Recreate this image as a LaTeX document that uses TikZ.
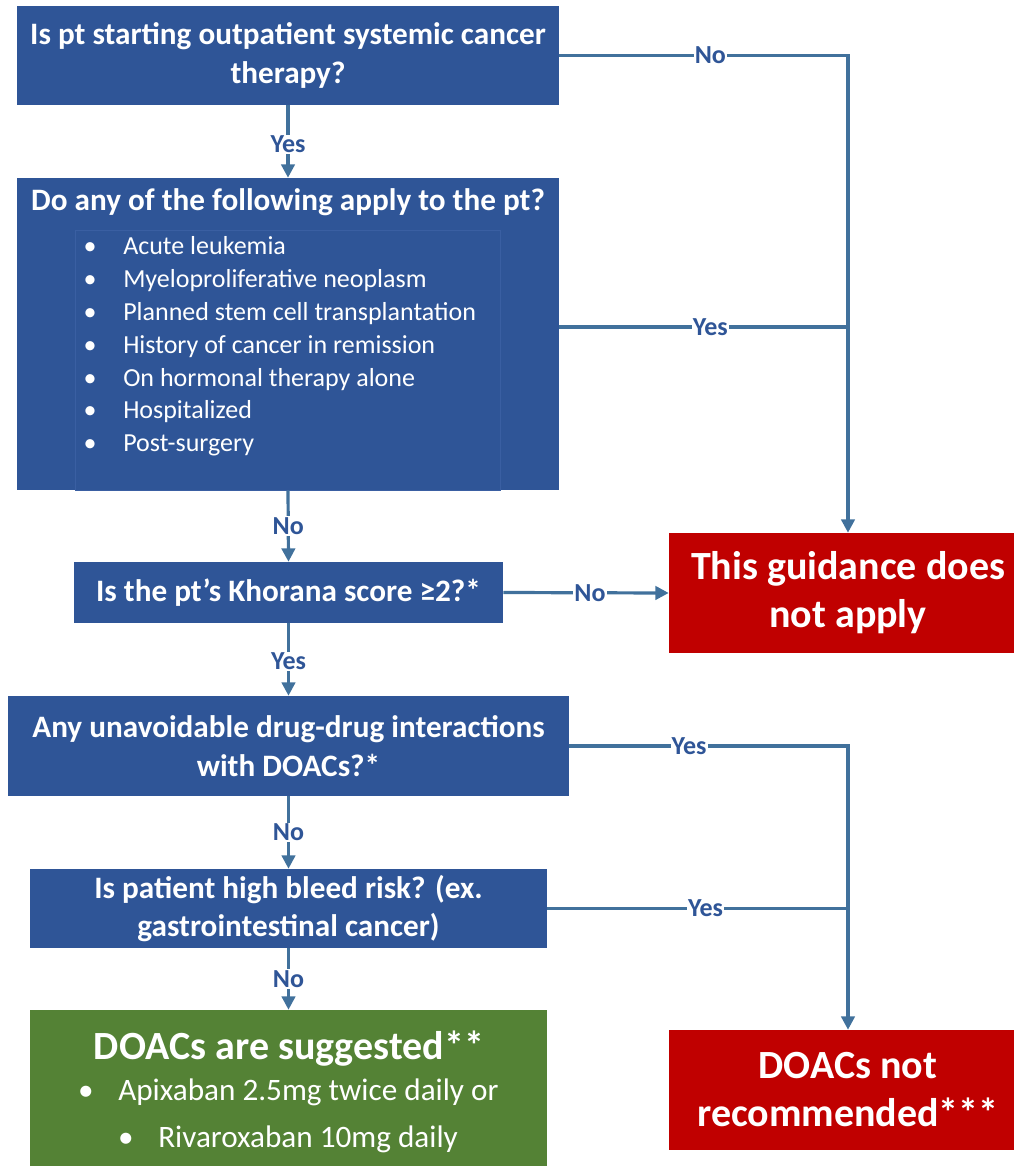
\documentclass[tikz,border=0pt]{standalone}
\usepackage{fontspec}
\setmainfont{Carlito}
\usetikzlibrary{arrows.meta,calc}
\definecolor{boxblue}{HTML}{2F5597}
\definecolor{linkblue}{HTML}{41719C}
\definecolor{boxred}{HTML}{C00000}
\definecolor{boxgreen}{HTML}{548235}
\definecolor{inneredge}{HTML}{3A5FA2}
\begin{document}
\begin{tikzpicture}[x=0.75pt,y=-0.75pt,
  box/.style={rectangle, fill=boxblue, draw=none, text=white, align=center, inner sep=0pt,
    font=\bfseries\fontsize{23.4}{29}\selectfont},
  redbox/.style={rectangle, fill=boxred, draw=none, text=white, align=center, inner sep=0pt,
    minimum width=268.5pt, minimum height=90pt, font=\bfseries\fontsize{30}{36}\selectfont},
  greenbox/.style={rectangle, fill=boxgreen, draw=none, inner sep=0pt},
  txt/.style={text=white, inner sep=0pt, text height=0.66em, text depth=0pt},
  conn/.style={draw=linkblue, line width=2.4pt, -{Triangle[length=10pt,width=10pt]}},
  link/.style={draw=linkblue, line width=2.4pt},
  lbl/.style={fill=white, text=boxblue, inner sep=0.8pt, font=\bfseries\fontsize{19.5}{22}\selectfont}
]
\useasboundingbox (0,0) rectangle (1013,1166);

% boxes
\node[box, minimum width=406.5pt, minimum height=74.25pt] (b1) at (288,55.5)
  {\raisebox{-2pt}{Is pt starting outpatient systemic cancer}\\\raisebox{-2pt}{therapy?}};
\node[box, minimum width=406.5pt, minimum height=234pt] (b2) at (288,334) {};
\draw[inneredge, line width=0.6pt] (75,230) rectangle (500,490);
\node[txt, font=\bfseries\fontsize{23.4}{29}\selectfont] (b2t) at (288,206) {Do any of the following apply to the pt?};
\foreach \yy/\tt [count=\i] in {250/Acute leukemia, 283/Myeloproliferative neoplasm, 316/Planned stem cell transplantation,
   349/History of cancer in remission, 382/On hormonal therapy alone, 414/Hospitalized, 447/Post-surgery}{
  \node[txt, font=\fontsize{19.5}{23}\selectfont] (bul\i) at (90,\yy) {•};
  \node[txt, anchor=west, font=\fontsize{19.5}{23}\selectfont] (item\i) at (123,\yy) {\tt};
}
\node[box, minimum width=321.75pt, minimum height=45.75pt] (b3) at (288.5,592.5)
  {\raisebox{-2pt}{Is the pt’s Khorana score ≥2?*}};
\node[redbox] (r1) at (848,593) {\raisebox{-2pt}{This guidance does}\\\raisebox{-2pt}{not apply}};
\node[box, minimum width=420.75pt, minimum height=75pt] (b4) at (288.5,746)
  {\raisebox{-2pt}{Any unavoidable drug-drug interactions}\\\raisebox{-2pt}{with DOACs?*}};
\node[box, minimum width=387.75pt, minimum height=59.25pt] (b5) at (288.5,908.5)
  {\raisebox{-2pt}{Is patient high bleed risk? (ex.}\\\raisebox{-2pt}{gastrointestinal cancer)}};
\node[greenbox, minimum width=387.75pt, minimum height=127.5pt] (g) at (288.5,1095) {};
\node[txt, font=\bfseries\fontsize{30}{36}\selectfont] (gt) at (289,1055) {DOACs are suggested**};
\node[txt, font=\fontsize{23.4}{28}\selectfont] (gb1) at (86,1096) {•};
\node[txt, anchor=west, font=\fontsize{23.4}{28}\selectfont] (gi1) at (118,1096) {Apixaban 2.5mg twice daily or};
\node[txt, font=\fontsize{23.4}{28}\selectfont] (gb2) at (126,1143) {•};
\node[txt, anchor=west, font=\fontsize{23.4}{28}\selectfont] (gi2) at (158,1143) {Rivaroxaban 10mg daily};
\node[redbox] (r2) at (848,1090) {\raisebox{-2pt}{DOACs not}\\\raisebox{-2pt}{recommended***}};

% connectors
\coordinate (b2e) at ($(b2.east)+(0,-7)$);
\draw[conn] (b1.south) -- node[lbl, yshift=-2pt]{Yes} (b2.north);
\draw[conn] (b2.south) -- node[lbl]{No} (b3.north);
\draw[conn] (b3.south) -- node[lbl, yshift=-1.5pt]{Yes} (b4.north);
\draw[conn] (b4.south) -- node[lbl]{No} (b5.north);
\draw[conn] (b5.south) -- node[lbl]{No} (g.north);
\draw[conn] (b3.east) -- node[lbl, xshift=3pt]{No} (r1.west);
\draw[conn] (b1.east) -- node[lbl, xshift=5pt]{No} (b1.east -| r1.north) -- (r1.north);
\draw[link] (b2e) -- node[lbl, xshift=5pt]{Yes} (b2e -| r1.north);
\draw[conn] (b4.east) -- node[lbl, pos=0.43]{Yes} (b4.east -| r2.north) -- (r2.north);
\draw[link] (b5.east) -- node[lbl, xshift=6pt]{Yes} (b5.east -| r2.north);
\end{tikzpicture}
\end{document}
